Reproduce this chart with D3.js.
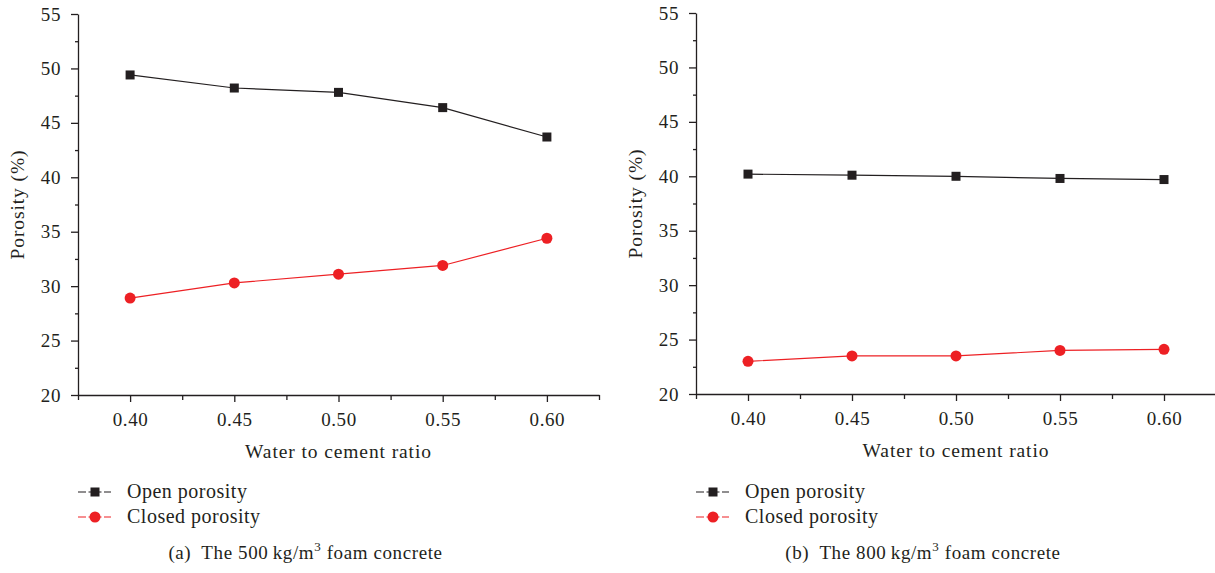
<!DOCTYPE html>
<html>
<head>
<meta charset="utf-8">
<script src="https://cdn.jsdelivr.net/npm/d3@7"></script>
<style>
  body { margin: 0; background: #fff; }
  svg text { font-family: "Liberation Serif", "Times New Roman", serif; fill: #231f20; }
</style>
</head>
<body>
<div id="container"></div>
<script>
/* DATA */
const ratios = [0.40, 0.45, 0.50, 0.55, 0.60];
const open500 = [49.4, 48.2, 47.8, 46.4, 43.7];
const closed500 = [28.9, 30.3, 31.1, 31.9, 34.4];
const open800 = [40.2, 40.1, 40.0, 39.8, 39.7];
const closed800 = [23.0, 23.5, 23.5, 24.0, 24.1];
const yTicks = [20, 25, 30, 35, 40, 45, 50, 55];
const yMinor = [22.5, 27.5, 32.5, 37.5, 42.5, 47.5, 52.5];
const xMinor = [0.375, 0.425, 0.475, 0.525, 0.575, 0.625];
const seriesNames = ["Open porosity", "Closed porosity"];
const captions = [["(a)\u2002The 500\u2009kg/m", " foam concrete"], ["(b)\u2002The 800\u2009kg/m", " foam concrete"]];

/* CONSTANTS */
const width = 1215, height = 573;
const black = "#231f20", red = "#ed2024";

const svg = d3.select("#container").append("svg")
  .attr("width", width)
  .attr("height", height);

function panel(left, top, bottom, right, openVals, closedVals, caption) {
  const x = d3.scaleLinear().domain([0.375, 0.625]).range([left, right]);
  const y = d3.scaleLinear().domain([20, 55]).range([bottom, top]);
  const g = svg.append("g");

  // minor ticks
  g.append("g")
    .attr("transform", `translate(0,${bottom})`)
    .call(d3.axisBottom(x).tickValues(xMinor).tickSize(5).tickFormat(""))
    .call(a => a.select(".domain").remove());
  g.append("g")
    .attr("transform", `translate(${left},0)`)
    .call(d3.axisLeft(y).tickValues(yMinor).tickSize(3).tickFormat(""))
    .call(a => a.select(".domain").remove());

  // major axes
  g.append("g")
    .attr("class", "x-axis")
    .attr("transform", `translate(0,${bottom})`)
    .call(d3.axisBottom(x).tickValues(ratios).tickSize(7).tickPadding(11).tickSizeOuter(0).tickFormat(d3.format(".2f")));
  g.append("g")
    .attr("class", "y-axis")
    .attr("transform", `translate(${left},0)`)
    .call(d3.axisLeft(y).tickValues(yTicks).tickSize(7).tickPadding(10).tickSizeOuter(0));

  g.selectAll(".domain, .tick line").attr("stroke", black).attr("stroke-width", 1.3);
  g.selectAll(".tick text")
    .style("font-size", "19px")
    .style("letter-spacing", "0.6px")
    .attr("fill", black);

  // axis titles
  g.append("text")
    .attr("x", (left + right) / 2)
    .attr("y", bottom + 63)
    .attr("text-anchor", "middle")
    .style("font-size", "19.5px")
    .style("letter-spacing", "0.9px")
    .text("Water to cement ratio");
  g.append("text")
    .attr("transform", `translate(${left - 54},${(top + bottom) / 2}) rotate(-90)`)
    .attr("text-anchor", "middle")
    .style("font-size", "19.5px")
    .style("letter-spacing", "0.9px")
    .text("Porosity (%)");

  const line = d3.line()
    .x((d, i) => x(ratios[i]))
    .y(d => y(d));

  // open porosity
  g.append("path")
    .datum(openVals)
    .attr("fill", "none")
    .attr("stroke", black)
    .attr("stroke-width", 1.2)
    .attr("d", line);
  g.selectAll(".sq")
    .data(openVals)
    .join("rect")
    .attr("class", "sq")
    .attr("x", (d, i) => x(ratios[i]) - 4.5)
    .attr("y", d => y(d) - 4.5)
    .attr("width", 9)
    .attr("height", 9)
    .attr("fill", black);

  // closed porosity
  g.append("path")
    .datum(closedVals)
    .attr("fill", "none")
    .attr("stroke", red)
    .attr("stroke-width", 1.2)
    .attr("d", line);
  g.selectAll(".dot")
    .data(closedVals)
    .join("circle")
    .attr("class", "dot")
    .attr("cx", (d, i) => x(ratios[i]))
    .attr("cy", d => y(d))
    .attr("r", 5.5)
    .attr("fill", red);

  // legend
  const leg = g.append("g").attr("transform", `translate(${left},0)`);
  [black, red].forEach((c, i) => {
    const ly = 492 + i * 25;
    leg.append("line")
      .attr("x1", 0).attr("x2", 33)
      .attr("y1", ly).attr("y2", ly)
      .attr("stroke", c).attr("stroke-width", 1.2);
    if (i === 0) {
      leg.append("rect").attr("x", 12.5).attr("y", ly - 4.5).attr("width", 9).attr("height", 9).attr("fill", c);
    } else {
      leg.append("circle").attr("cx", 17).attr("cy", ly).attr("r", 5.5).attr("fill", c);
    }
    // white gaps on either side of the marker
    leg.append("line").attr("x1", 8).attr("x2", 10.5).attr("y1", ly).attr("y2", ly)
      .attr("stroke", "#fff").attr("stroke-width", 3);
    leg.append("line").attr("x1", 23.5).attr("x2", 26).attr("y1", ly).attr("y2", ly)
      .attr("stroke", "#fff").attr("stroke-width", 3);
    leg.append("text")
      .attr("x", 49)
      .attr("y", ly + 6)
      .style("font-size", "20px")
      .style("letter-spacing", "0.5px")
      .text(seriesNames[i]);
  });

  // caption
  const cap = g.append("text")
    .attr("x", (left + right) / 2 - 33)
    .attr("y", 559)
    .attr("text-anchor", "middle")
    .style("font-size", "19px")
    .style("letter-spacing", "0.6px");
  cap.append("tspan").text(caption[0]);
  cap.append("tspan").attr("dy", -8).style("font-size", "13px").text("3");
  cap.append("tspan").attr("dy", 8).text(caption[1]);
}

panel(78, 14, 395, 599, open500, closed500, captions[0]);
panel(696, 13, 394, 1216, open800, closed800, captions[1]);
</script>
</body>
</html>
